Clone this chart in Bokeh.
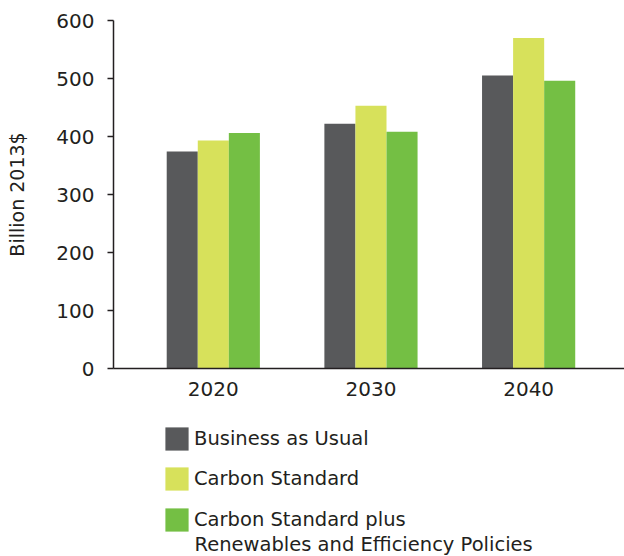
from bokeh.plotting import figure
from bokeh.layouts import column
from bokeh.models import Legend, LegendItem, ColumnDataSource, FixedTicker, Range1d, Label
from bokeh.embed import file_html
from bokeh.resources import INLINE

years = ["2020", "2030", "2040"]
series_names = ["Business as Usual", "Carbon Standard", "Carbon Standard plus"]
series_name_continued = "Renewables and Efficiency Policies"
business_as_usual = [374, 422, 505]
carbon_standard = [393, 453, 570]
carbon_standard_plus = [406, 408, 496]
y_ticks = [0, 100, 200, 300, 400, 500, 600]
colors = ["#58595b", "#d7e15b", "#74bf44"]

FONT = "DejaVu Sans"
TXT = "#231f20"
LEG_SIZE = "19.5px"

p = figure(width=624, height=405, output_backend="svg", toolbar_location=None,
           x_range=Range1d(-0.633, 2.608), y_range=Range1d(0, 600),
           min_border_left=113, min_border_right=0, min_border_top=20,
           min_border_bottom=37)
p.outline_line_color = None
p.grid.visible = False
p.background_fill_color = "white"
p.border_fill_color = "white"

bw = 0.197
offsets = [-bw, 0.0, bw]
for vals, off, col in zip([business_as_usual, carbon_standard, carbon_standard_plus], offsets, colors):
    src = ColumnDataSource(dict(x=[i + off for i in range(len(years))], top=vals))
    p.vbar(x="x", top="top", width=bw, bottom=0, source=src, fill_color=col, line_color=None)

# x axis
p.xaxis.ticker = FixedTicker(ticks=list(range(len(years))))
p.xaxis.major_label_overrides = {i: y for i, y in enumerate(years)}
p.xaxis.major_tick_line_color = None
p.xaxis.minor_tick_line_color = None
p.xaxis.major_tick_out = 0
p.xaxis.major_label_standoff = 13
p.xaxis.axis_line_color = "#231f20"
p.xaxis.axis_line_width = 1.5
p.xaxis.major_label_text_font = FONT
p.xaxis.major_label_text_font_size = "20px"
p.xaxis.major_label_text_color = TXT

# y axis
p.yaxis.ticker = FixedTicker(ticks=y_ticks)
p.yaxis.minor_tick_line_color = None
p.yaxis.major_tick_out = 6
p.yaxis.major_tick_in = 0
p.yaxis.major_tick_line_color = "#231f20"
p.yaxis.major_tick_line_width = 1.5
p.yaxis.axis_line_color = "#231f20"
p.yaxis.axis_line_width = 1.5
p.yaxis.major_label_standoff = 13
p.yaxis.major_label_text_font = FONT
p.yaxis.major_label_text_font_size = "20px"
p.yaxis.major_label_text_color = TXT
p.yaxis.axis_label = "Billion 2013$"
p.yaxis.axis_label_text_font = FONT
p.yaxis.axis_label_text_font_size = "19px"
p.yaxis.axis_label_text_font_style = "normal"
p.yaxis.axis_label_text_color = TXT
p.yaxis.axis_label_standoff = 25

# legend in its own panel below the chart (swatch glyphs sit outside the visible range)
q = figure(width=624, height=151, output_backend="svg", toolbar_location=None,
           x_range=Range1d(0, 1), y_range=Range1d(0, 1),
           min_border_left=0, min_border_right=0, min_border_top=0, min_border_bottom=0)
q.axis.visible = False
q.grid.visible = False
q.outline_line_color = None
q.background_fill_color = "white"
q.border_fill_color = "white"
legend_renderers = []
for col in colors:
    r = q.vbar(x=[-10], top=[-10], bottom=-11, width=0.1, fill_color=col, line_color=None)
    legend_renderers.append(r)

items = [LegendItem(label=n, renderers=[r]) for n, r in zip(series_names, legend_renderers)]
common = dict(orientation="vertical", border_line_color=None, background_fill_alpha=0,
              glyph_width=29, glyph_height=29, label_text_font=FONT,
              label_text_font_size=LEG_SIZE, label_text_color=TXT,
              label_standoff=3, spacing=11, padding=0, margin=0)
legend_a = Legend(items=items[:2], location=(49, 63), **common)
legend_b = Legend(items=items[2:], location=(49, 22), **common)
q.add_layout(legend_a, "center")
q.add_layout(legend_b, "center")
q.add_layout(Label(x=81, y=12.5, x_units="screen", y_units="screen",
                   text=series_name_continued, text_font=FONT, text_font_size=LEG_SIZE,
                   text_color=TXT, text_baseline="middle", text_align="left"))

open("out.html", "w").write(file_html(column(p, q, spacing=0), INLINE))
